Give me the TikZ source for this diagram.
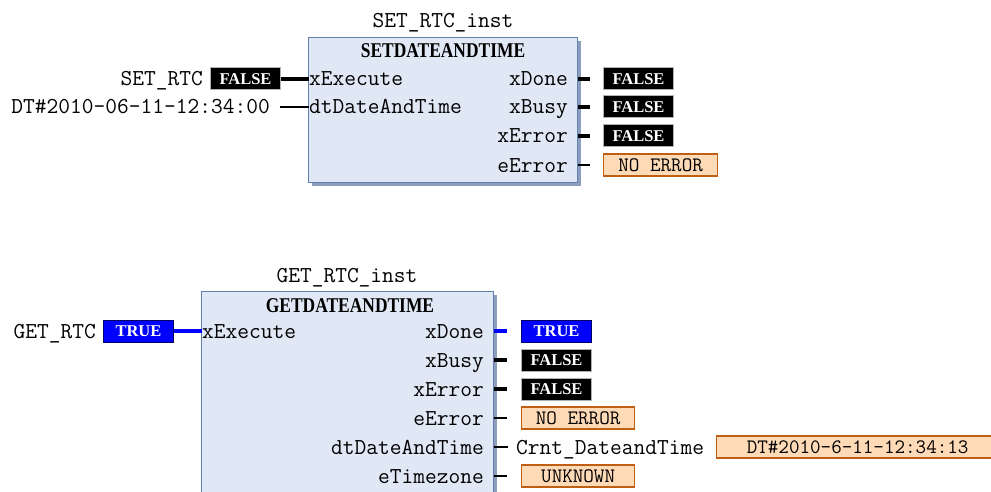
\documentclass[tikz,border=0pt]{standalone}
\usepackage{fontspec}
\setmainfont{Liberation Serif}
\usetikzlibrary{positioning}
\definecolor{blkfill}{RGB}{224,232,246}
\definecolor{blkedge}{RGB}{96,128,176}
\definecolor{blkshade}{RGB}{140,158,188}
\definecolor{enumfill}{RGB}{255,218,182}
\definecolor{enumedge}{RGB}{190,95,20}
\definecolor{truefill}{RGB}{0,0,255}
\newcommand\fbname[1]{\scalebox{0.83}[1]{#1}}
\tikzset{
  pin/.style={font=\ttfamily\fontsize{22.8}{22.8}\selectfont, inner sep=0pt, text height=14pt, text depth=0pt},
  fbtitle/.style={pin, font=\rmfamily\bfseries\fontsize{21}{21}\selectfont, text height=14pt},
  boolval/.style={draw=gray!60, line width=1pt, fill=black, text=white, font=\rmfamily\bfseries\fontsize{16.5}{16.5}\selectfont,
    minimum width=70pt, minimum height=22pt, inner sep=0pt, text height=11pt, text depth=0pt},
  trueval/.style={boolval, fill=truefill, draw=black!60!blue},
  enumval/.style={draw=enumedge, fill=enumfill, line width=1.3pt, font=\ttfamily\fontsize{20.5}{20.5}\selectfont,
    minimum height=22pt, inner sep=0pt, text height=12.5pt, text depth=0pt},
  fblock/.style={draw=blkedge, fill=blkfill, line width=1pt, inner sep=0pt},
  boolwire/.style={line width=4.5pt},
  anywire/.style={line width=1.3pt},
}
\begin{document}
\begin{tikzpicture}[x=1pt,y=-1pt]
\clip (0,0) rectangle (991,492);
% SETDATEANDTIME block
\fill[blkshade] (312,41) rectangle (581,186);
\node[fblock, anchor=north west, minimum width=269pt, minimum height=145pt] (setBlk) at (308,37) {};
\node[pin] (setInst) at (443,21) {SET\_RTC\_inst};
\node[fbtitle] (setTitle) at (443,51) {\fbname{SETDATEANDTIME}};
\node[pin, anchor=west] (setExec) at (309,79) {xExecute};
\node[pin, anchor=west] (setDT) at (309,107) {dtDateAndTime};
\node[boolval, anchor=west] (setRtcVal) at (210,79) {FALSE};
\node[pin, left=7pt of setRtcVal] (setRtc) {SET\_RTC};
\draw[boolwire] (setRtcVal.east) -- (setExec.west);
\node[pin, anchor=east] (setDTVal) at (270,107) {DT\#2010-06-11-12:34:00};
\coordinate (setDTEnd) at (280,107);
\draw[anywire] (setDTEnd) -- (setDT.west);
\foreach \y/\pn/\nm/\vn in {79/xDone/setDone/setDoneV,107/xBusy/setBusy/setBusyV,136/xError/setErr/setErrV}{
  \node[pin, anchor=east] (\nm) at (568,\y) {\pn};
  \node[boolval, anchor=west] (\vn) at (603,\y) {FALSE};
  \draw[boolwire] (setBlk.east |- \vn) -- ([xshift=-13pt]\vn.west);
}
\node[pin, anchor=east] (setEErr) at (568,165) {eError};
\node[enumval, anchor=west, minimum width=114pt] (setEErrV) at (603,165) {NO ERROR};
\draw[anywire] (setBlk.east |- setEErrV) -- ([xshift=-13pt]setEErrV.west);
% GETDATEANDTIME block
\fill[blkshade] (205,295) rectangle (497,520);
\node[fblock, anchor=north west, minimum width=292pt, minimum height=225pt] (getBlk) at (201,291) {};
\node[pin] (getInst) at (347,275) {GET\_RTC\_inst};
\node[fbtitle] (getTitle) at (350,305) {\fbname{GETDATEANDTIME}};
\node[pin, anchor=west] (getExec) at (202,331) {xExecute};
\node[trueval, anchor=west] (getRtcVal) at (103,331) {TRUE};
\node[pin, left=7pt of getRtcVal] (getRtc) {GET\_RTC};
\draw[boolwire, truefill] (getRtcVal.east) -- (getExec.west);
\node[pin, anchor=east] (getDone) at (484,331) {xDone};
\node[trueval, anchor=west] (getDoneV) at (521,331) {TRUE};
\draw[boolwire, truefill] (getBlk.east |- getDoneV) -- ([xshift=-14pt]getDoneV.west);
\foreach \y/\pn/\nm/\vn in {360/xBusy/getBusy/getBusyV,389/xError/getErr/getErrV}{
  \node[pin, anchor=east] (\nm) at (484,\y) {\pn};
  \node[boolval, anchor=west] (\vn) at (521,\y) {FALSE};
  \draw[boolwire] (getBlk.east |- \vn) -- ([xshift=-14pt]\vn.west);
}
\foreach \y/\pn/\nm/\vn/\val in {418/eError/getEErr/getEErrV/{NO ERROR},476/eTimezone/getTz/getTzV/UNKNOWN}{
  \node[pin, anchor=east] (\nm) at (484,\y) {\pn};
  \node[enumval, anchor=west, minimum width=113pt] (\vn) at (521,\y) {\val};
  \draw[anywire] (getBlk.east |- \vn) -- ([xshift=-14pt]\vn.west);
}
\node[pin, anchor=east] (getDT) at (484,447) {dtDateAndTime};
\node[pin, anchor=west] (getDTVar) at (516,447) {Crnt\_DateandTime};
\draw[anywire] (getBlk.east |- getDTVar) -- ([xshift=-8pt]getDTVar.west);
\node[enumval, anchor=west, minimum width=282pt] (getDTV) at (716,447) {DT\#2010-6-11-12:34:13};
\end{tikzpicture}
\end{document}
